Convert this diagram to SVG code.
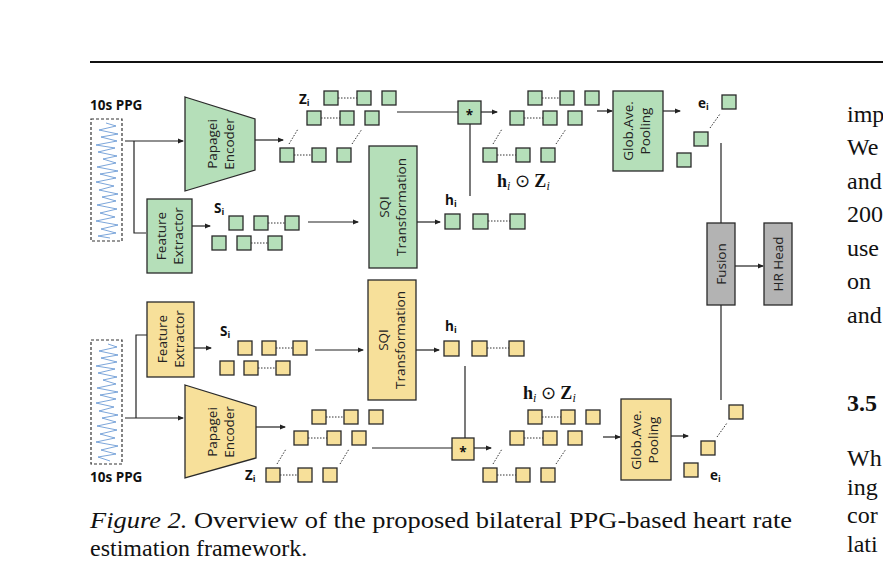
<svg xmlns="http://www.w3.org/2000/svg" width="883" height="576" viewBox="0 0 883 576">
<defs>
<marker id="ar" markerWidth="6" markerHeight="6" refX="5" refY="3" orient="auto" markerUnits="userSpaceOnUse"><path d="M0,0.5 L6,3 L0,5.5 Z" fill="#222"/></marker>
</defs>
<style>
.g{fill:#b5dfb9;stroke:#2a2a2a;stroke-width:1.3}
.y{fill:#f7e09a;stroke:#2a2a2a;stroke-width:1.3}
.gr{fill:#b3b3b3;stroke:#2a2a2a;stroke-width:1.3}
.ln{stroke:#222;stroke-width:1.2;fill:none}
.dt{stroke:#333;stroke-width:1;stroke-dasharray:1.5 1.5;fill:none}
.t{font-family:"Open Sans","Liberation Sans",Arial,sans-serif;font-size:13.5px;fill:#222}
.b{font-family:"Open Sans","Liberation Sans",Arial,sans-serif;font-size:13.5px;font-weight:bold;fill:#111}
.m{font-family:"Liberation Serif",serif;font-size:18px;font-weight:bold;fill:#111}
.cap{font-family:"Liberation Serif",serif;font-size:24px;fill:#111}
.wave{stroke:#5a8fd0;stroke-width:0.8;fill:none}
.box{fill:#fff;stroke:#333;stroke-width:1.2;stroke-dasharray:3 2}
</style>
<rect width="883" height="576" fill="#fff"/>
<line x1="90" y1="62" x2="883" y2="62" stroke="#111" stroke-width="2"/>

<g id="connectors">
<path class="ln" d="M125,141 H183" marker-end="url(#ar)"/>
<path class="ln" d="M134,141 V233 H146"/>
<path class="ln" d="M255,140 H283" marker-end="url(#ar)"/>
<path class="ln" d="M192,226 H210" marker-end="url(#ar)"/>
<path class="ln" d="M308,222 H358" marker-end="url(#ar)"/>
<path class="ln" d="M417,222 H440" marker-end="url(#ar)"/>
<path class="ln" d="M397,112 H458"/>
<path class="ln" d="M481,112 H497" marker-end="url(#ar)"/>
<path class="ln" d="M470,124 V196"/>
<path class="ln" d="M597,111 H612" marker-end="url(#ar)"/>
<path class="ln" d="M663,111 H680" marker-end="url(#ar)"/>
<path class="ln" d="M721,143 V223"/>
<path class="ln" d="M735,266 H763" marker-end="url(#ar)"/>
<path class="ln" d="M721,305 V400"/>
<path class="ln" d="M125,418 H183" marker-end="url(#ar)"/>
<path class="ln" d="M136,418 V335 H147"/>
<path class="ln" d="M194,348 H211" marker-end="url(#ar)"/>
<path class="ln" d="M256,427 H285" marker-end="url(#ar)"/>
<path class="ln" d="M315,350 H363" marker-end="url(#ar)"/>
<path class="ln" d="M416,350 H439" marker-end="url(#ar)"/>
<path class="ln" d="M465,366 V438"/>
<path class="ln" d="M372,448 H452"/>
<path class="ln" d="M474,448 H491" marker-end="url(#ar)"/>
<path class="ln" d="M603,437 H620" marker-end="url(#ar)"/>
<path class="ln" d="M671,436 H688" marker-end="url(#ar)"/>
</g>

<g id="ppg-top">
<text class="b" x="90" y="110">10s PPG</text>
<rect class="box" x="91" y="119" width="31" height="122"/>
<polyline class="wave" points="106,123 116,126 99,130 118,134 101,137 117,141 96,145 115,148 98,152 117,156 103,159 116,163 97,167 118,171 100,174 116,178 96,182 114,186 99,190 118,194 102,197 116,201 97,205 117,209 100,213 115,217 96,221 118,225 101,229 116,233 98,236 110,238"/>
</g>
<g id="encoder-top"><path class="g" d="M185,97 L255,119 L255,170 L185,191 Z"/><text class="t" transform="translate(217,144) rotate(-90)" text-anchor="middle">Papagei</text><text class="t" transform="translate(234,144) rotate(-90)" text-anchor="middle">Encoder</text></g>
<g id="fe-top"><rect class="g" x="147" y="199" width="45" height="74"/><text class="t" transform="translate(166,236) rotate(-90)" text-anchor="middle">Feature</text><text class="t" transform="translate(183,236) rotate(-90)" text-anchor="middle">Extractor</text></g>
<g id="sqi-top"><rect class="g" x="369" y="146" width="48" height="122"/><text class="t" transform="translate(389,207) rotate(-90)" text-anchor="middle">SQI</text><text class="t" transform="translate(406,207) rotate(-90)" text-anchor="middle">Transformation</text></g>
<g id="s-top"><text class="b" x="214" y="213">S<tspan font-size="9" dy="2">i</tspan></text>
<rect class="g" x="229" y="216" width="14" height="14"/><rect class="g" x="254" y="216" width="14" height="14"/><rect class="g" x="285" y="216" width="14" height="14"/><path class="dt" d="M268,223 H285"/>
<rect class="g" x="212" y="236" width="14" height="14"/><rect class="g" x="237" y="236" width="14" height="14"/><rect class="g" x="268" y="236" width="14" height="14"/><path class="dt" d="M251,243 H268"/></g>
<g id="z-top"><text class="b" x="299" y="104">Z<tspan font-size="9" dy="2">i</tspan></text>
<rect class="g" x="324" y="91" width="14" height="14"/><rect class="g" x="357" y="91" width="14" height="14"/><rect class="g" x="382" y="91" width="14" height="14"/><path class="dt" d="M338,98 H357"/>
<rect class="g" x="307" y="111" width="14" height="14"/><rect class="g" x="340" y="111" width="14" height="14"/><rect class="g" x="365" y="111" width="14" height="14"/><path class="dt" d="M321,118 H340"/>
<rect class="g" x="280" y="148" width="14" height="14"/><rect class="g" x="312" y="148" width="14" height="14"/><rect class="g" x="337" y="148" width="14" height="14"/><path class="dt" d="M294,155 H312 M289,144 L298,129 M352,144 L362,129"/></g>
<g id="h-top"><text class="b" x="445" y="205">h<tspan font-size="9" dy="2">i</tspan></text>
<rect class="g" x="445" y="214" width="15" height="15"/><rect class="g" x="473" y="214" width="15" height="15"/><rect class="g" x="510" y="214" width="15" height="15"/><path class="dt" d="M488,221 H510"/></g>
<g id="mul-top"><rect class="g" x="458" y="101" width="23" height="23"/><text class="b" x="469.5" y="120" text-anchor="middle" font-size="17">*</text></g>
<g id="hz-top"><rect class="g" x="528" y="91" width="14" height="14"/><rect class="g" x="560" y="91" width="14" height="14"/><rect class="g" x="585" y="91" width="14" height="14"/><path class="dt" d="M542,98 H560"/>
<rect class="g" x="510" y="111" width="14" height="14"/><rect class="g" x="543" y="111" width="14" height="14"/><rect class="g" x="568" y="111" width="14" height="14"/><path class="dt" d="M524,118 H543"/>
<rect class="g" x="483" y="148" width="14" height="14"/><rect class="g" x="516" y="148" width="14" height="14"/><rect class="g" x="541" y="148" width="14" height="14"/><path class="dt" d="M497,155 H516 M493,144 L502,129 M556,144 L566,129"/>
<text class="m" x="497" y="187">h<tspan font-style="italic" font-weight="normal" font-size="12" dy="3">i</tspan><tspan dy="-3" font-weight="normal"> ⊙ </tspan>Z<tspan font-style="italic" font-weight="normal" font-size="12" dy="3">i</tspan></text></g>
<g id="gap-top"><rect class="g" x="613" y="91" width="50" height="80"/><text class="t" transform="translate(633,131) rotate(-90)" text-anchor="middle">Glob.Ave.</text><text class="t" transform="translate(650,131) rotate(-90)" text-anchor="middle">Pooling</text></g>
<g id="e-top"><text class="b" x="698" y="108">e<tspan font-size="9" dy="2">i</tspan></text>
<rect class="g" x="722" y="95" width="14" height="14"/><rect class="g" x="694" y="132" width="14" height="14"/><rect class="g" x="677" y="153" width="14" height="14"/><path class="dt" d="M710,128 L720,114"/></g>
<g id="fusion"><rect class="gr" x="707" y="223" width="28" height="82"/><text class="t" transform="translate(726,264) rotate(-90)" text-anchor="middle">Fusion</text></g>
<g id="hrhead"><rect class="gr" x="764" y="223" width="28" height="82"/><text class="t" transform="translate(783,264) rotate(-90)" text-anchor="middle">HR Head</text></g>

<g id="ppg-bot">
<rect class="box" x="91" y="340" width="31" height="124"/>
<polyline class="wave" points="108,344 117,347 99,351 118,355 101,358 117,362 96,366 115,369 98,373 117,377 103,380 116,384 97,388 118,392 100,395 116,399 96,403 114,407 99,411 118,415 102,418 116,422 97,426 117,430 100,434 115,438 96,442 118,446 101,450 116,454 98,457 110,461"/>
<text class="b" x="90" y="482">10s PPG</text>
</g>
<g id="fe-bot"><rect class="y" x="147" y="302" width="47" height="75"/><text class="t" transform="translate(167,339) rotate(-90)" text-anchor="middle">Feature</text><text class="t" transform="translate(184,339) rotate(-90)" text-anchor="middle">Extractor</text></g>
<g id="encoder-bot"><path class="y" d="M185,385 L256,407 L256,458 L185,478 Z"/><text class="t" transform="translate(217,432) rotate(-90)" text-anchor="middle">Papagei</text><text class="t" transform="translate(234,432) rotate(-90)" text-anchor="middle">Encoder</text></g>
<g id="sqi-bot"><rect class="y" x="368" y="280" width="48" height="120"/><text class="t" transform="translate(388,340) rotate(-90)" text-anchor="middle">SQI</text><text class="t" transform="translate(405,340) rotate(-90)" text-anchor="middle">Transformation</text></g>
<g id="s-bot"><text class="b" x="220" y="336">S<tspan font-size="9" dy="2">i</tspan></text>
<rect class="y" x="238" y="341" width="14" height="14"/><rect class="y" x="262" y="341" width="14" height="14"/><rect class="y" x="293" y="341" width="14" height="14"/><path class="dt" d="M276,348 H293"/>
<rect class="y" x="220" y="361" width="14" height="14"/><rect class="y" x="244" y="361" width="14" height="14"/><rect class="y" x="276" y="361" width="14" height="14"/><path class="dt" d="M258,368 H276"/></g>
<g id="h-bot"><text class="b" x="445" y="331">h<tspan font-size="9" dy="2">i</tspan></text>
<rect class="y" x="444" y="341" width="15" height="15"/><rect class="y" x="472" y="341" width="15" height="15"/><rect class="y" x="509" y="341" width="15" height="15"/><path class="dt" d="M487,348 H509"/></g>
<g id="z-bot"><rect class="y" x="312" y="410" width="14" height="14"/><rect class="y" x="344" y="410" width="14" height="14"/><rect class="y" x="369" y="410" width="14" height="14"/><path class="dt" d="M326,417 H344"/>
<rect class="y" x="294" y="431" width="14" height="14"/><rect class="y" x="327" y="431" width="14" height="14"/><rect class="y" x="352" y="431" width="14" height="14"/><path class="dt" d="M308,438 H327"/>
<text class="b" x="245" y="480">Z<tspan font-size="9" dy="2">i</tspan></text>
<rect class="y" x="266" y="468" width="14" height="14"/><rect class="y" x="298" y="468" width="14" height="14"/><rect class="y" x="323" y="468" width="14" height="14"/><path class="dt" d="M280,475 H298 M277,464 L286,449 M340,464 L349,449"/></g>
<g id="mul-bot"><rect class="y" x="452" y="438" width="22" height="22"/><text class="b" x="463" y="457" text-anchor="middle" font-size="17">*</text></g>
<g id="hz-bot"><text class="m" x="523" y="399">h<tspan font-style="italic" font-weight="normal" font-size="12" dy="3">i</tspan><tspan dy="-3" font-weight="normal"> ⊙ </tspan>Z<tspan font-style="italic" font-weight="normal" font-size="12" dy="3">i</tspan></text>
<rect class="y" x="528" y="410" width="14" height="14"/><rect class="y" x="561" y="410" width="14" height="14"/><rect class="y" x="586" y="410" width="14" height="14"/><path class="dt" d="M542,417 H561"/>
<rect class="y" x="510" y="431" width="14" height="14"/><rect class="y" x="543" y="431" width="14" height="14"/><rect class="y" x="568" y="431" width="14" height="14"/><path class="dt" d="M524,438 H543"/>
<rect class="y" x="483" y="468" width="14" height="14"/><rect class="y" x="516" y="468" width="14" height="14"/><rect class="y" x="541" y="468" width="14" height="14"/><path class="dt" d="M497,475 H516 M493,464 L502,449 M556,464 L566,449"/></g>
<g id="gap-bot"><rect class="y" x="621" y="399" width="50" height="81"/><text class="t" transform="translate(641,440) rotate(-90)" text-anchor="middle">Glob.Ave.</text><text class="t" transform="translate(658,440) rotate(-90)" text-anchor="middle">Pooling</text></g>
<g id="e-bot"><rect class="y" x="729" y="405" width="14" height="14"/><rect class="y" x="701" y="441" width="14" height="14"/><rect class="y" x="684" y="463" width="14" height="14"/><path class="dt" d="M717,437 L727,423"/>
<text class="b" x="710" y="480">e<tspan font-size="9" dy="2">i</tspan></text></g>

<g id="caption">
<text class="cap" x="90" y="528" textLength="702" lengthAdjust="spacingAndGlyphs"><tspan font-style="italic">Figure 2.</tspan> Overview of the proposed bilateral PPG-based heart rate</text>
<text class="cap" x="90" y="556">estimation framework.</text>
</g>
<g id="sidetext" class="cap">
<text x="847" y="122">imp</text><text x="847" y="155">We</text><text x="847" y="189">and</text><text x="847" y="222">200</text><text x="847" y="256">use</text><text x="847" y="289">on</text><text x="847" y="323">and</text>
<text x="847" y="411" font-weight="bold">3.5</text>
<text x="847" y="466">Wh</text><text x="847" y="495">ing</text><text x="847" y="523">cor</text><text x="847" y="552">lati</text>
</g>
</svg>
